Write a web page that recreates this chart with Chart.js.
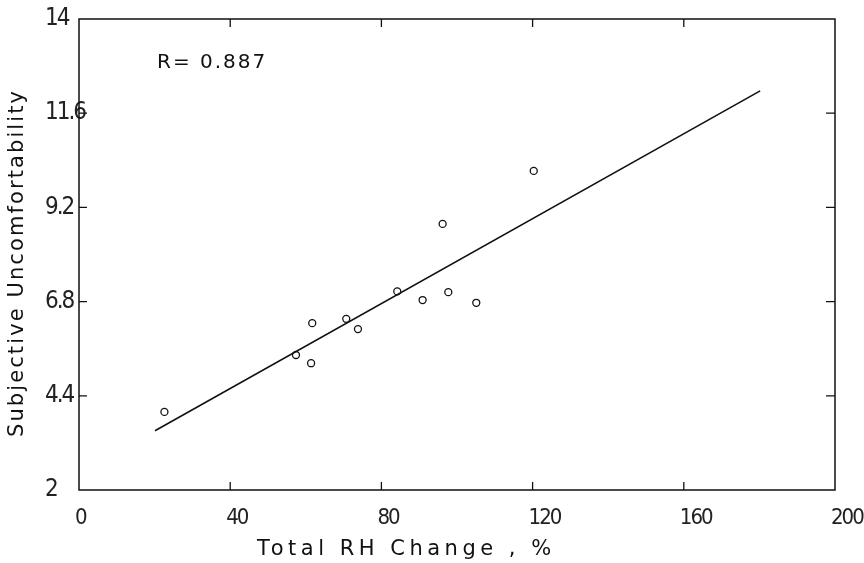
<!DOCTYPE html>
<html><head><meta charset="utf-8">
<script src="https://cdn.jsdelivr.net/npm/chart.js@4/dist/chart.umd.min.js"></script>
<style>html,body{margin:0;padding:0;background:#fff}#wrap{width:864px;height:563px;position:relative}</style>
</head><body><div id="wrap"><canvas id="c"></canvas></div>
<script>
// Data
const rhChange  = [22.6, 57.4, 61.4, 61.7, 70.7, 73.8, 84.2, 90.9, 96.2, 97.7, 105.1, 120.3];
const uncomfort = [3.99, 5.44, 5.23, 6.25, 6.36, 6.10, 7.06, 6.84, 8.78, 7.04, 6.77, 10.13];
const fitX = [20.1, 180.2];
const fitY = [3.51, 12.17];
const xTicks = [0, 40, 80, 120, 160, 200];
const xTickLabels = ['0', '40', '80', '120', '160', '200'];
const yTicks = [2, 4.4, 6.8, 9.2, 11.6, 14];
const yTickLabels = ['2', '4.4', '6.8', '9.2', '11.6', '14'];
const xTitle = 'Total RH Change , %';
const yTitle = 'Subjective Uncomfortability';
const rLabel = 'R= 0.887';

const tickFont = "'Liberation Sans Narrow', 'DejaVu Sans Condensed', sans-serif";
const titleFont = "'DejaVu Sans', Verdana, sans-serif";
const ink = '#111';

const tickSpacing = {
  id: 'tickSpacing',
  beforeDraw(chart) { chart.ctx.letterSpacing = '-2px'; }
};

const decor = {
  id: 'decor',
  afterDraw(chart) {
    const {ctx, chartArea: a, scales: {x, y}} = chart;
    ctx.save();
    ctx.strokeStyle = ink;
    ctx.lineWidth = 1.5;
    ctx.strokeRect(a.left, a.top, a.right - a.left, a.bottom - a.top);
    ctx.lineWidth = 1.3;
    ctx.beginPath();
    xTicks.slice(1, -1).forEach(v => {
      const px = x.getPixelForValue(v);
      ctx.moveTo(px, a.bottom); ctx.lineTo(px, a.bottom - 8);
      ctx.moveTo(px, a.top); ctx.lineTo(px, a.top + 8);
    });
    yTicks.slice(1, -1).forEach(v => {
      const py = y.getPixelForValue(v);
      ctx.moveTo(a.left, py); ctx.lineTo(a.left + 8, py);
      ctx.moveTo(a.right, py); ctx.lineTo(a.right - 9, py);
    });
    ctx.stroke();

    ctx.fillStyle = ink;
    ctx.textAlign = 'left';
    ctx.textBaseline = 'alphabetic';
    // x title
    ctx.font = '21px ' + titleFont;
    ctx.letterSpacing = '4.5px';
    ctx.fillText(xTitle, 257, 555);
    // R label
    ctx.font = '20px ' + titleFont;
    ctx.letterSpacing = '2px';
    ctx.fillText(rLabel, 157, 68);
    // y title
    ctx.save();
    ctx.translate(23, 437);
    ctx.rotate(-Math.PI / 2);
    ctx.font = '21px ' + titleFont;
    ctx.letterSpacing = '2.1px';
    ctx.fillText(yTitle, 0, 0);
    ctx.restore();
    ctx.restore();
    ctx.letterSpacing = '0px';
  }
};

new Chart(document.getElementById('c'), {
  type: 'scatter',
  data: {
    datasets: [
      {
        label: 'fit',
        data: fitX.map((v, i) => ({x: v, y: fitY[i]})),
        showLine: true,
        borderColor: ink,
        borderWidth: 1.6,
        pointRadius: 0,
        fill: false
      },
      {
        label: 'data',
        data: rhChange.map((v, i) => ({x: v, y: uncomfort[i]})),
        pointStyle: 'circle',
        pointRadius: 3.5,
        pointBorderWidth: 1.3,
        pointBorderColor: ink,
        pointBackgroundColor: '#fff'
      }
    ]
  },
  options: {
    responsive: true,
    maintainAspectRatio: false,
    animation: false,
    layout: {padding: {left: 45, right: 29, top: 19, bottom: 0}},
    plugins: {legend: {display: false}, tooltip: {enabled: false}},
    scales: {
      x: {
        type: 'linear', min: 0, max: 200,
        afterBuildTicks: s => { s.ticks = xTicks.map(v => ({value: v})); },
        grid: {display: false, drawTicks: false},
        border: {display: false},
        ticks: {
          align: 'start', labelOffset: -4, padding: 15, color: '#222', autoSkip: false, maxRotation: 0,
          font: {family: tickFont, size: 22},
          callback: (v, i) => xTickLabels[i]
        },
        afterFit: s => { s.height = 73; s.paddingLeft = 0; s.paddingRight = 0; }
      },
      y: {
        type: 'linear', min: 2, max: 14,
        afterBuildTicks: s => { s.ticks = yTicks.map(v => ({value: v})); },
        grid: {display: false, drawTicks: false},
        border: {display: false},
        ticks: {
          mirror: true, crossAlign: 'near', padding: -34, color: '#222', autoSkip: false,
          font: {family: tickFont, size: 24},
          callback: (v, i) => yTickLabels[i]
        },
        afterFit: s => { s.width = 34; s.paddingTop = 0; s.paddingBottom = 0; }
      }
    }
  },
  plugins: [tickSpacing, decor]
});
</script>
</body></html>
